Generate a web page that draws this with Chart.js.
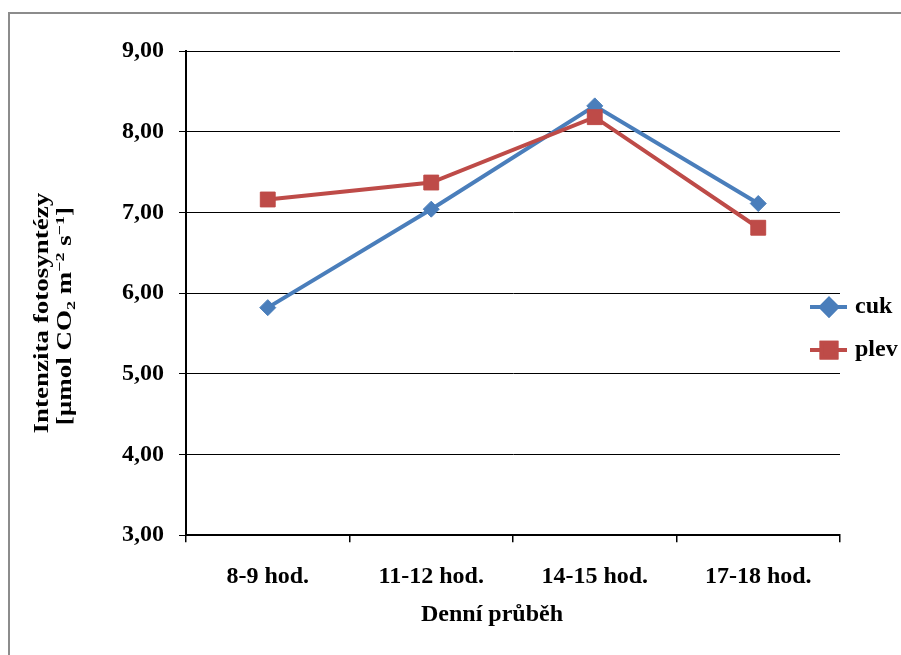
<!DOCTYPE html>
<html>
<head>
<meta charset="utf-8">
<script src="https://cdn.jsdelivr.net/npm/chart.js@4"></script>
<style>
  body { margin: 0; background: #fff; }
  canvas { display: block; }
</style>
</head>
<body>
<canvas id="chart" width="901" height="655"></canvas>
<script>
// data
const categories = ["8-9 hod.", "11-12 hod.", "14-15 hod.", "17-18 hod."];
const cukValues = [5.82, 7.04, 8.32, 7.11];
const plevValues = [7.16, 7.37, 8.18, 6.81];
const yTickLabels = ["3,00", "4,00", "5,00", "6,00", "7,00", "8,00", "9,00"];

const xTitle = "Denní průběh";
const yTitleLine1 = "Intenzita fotosyntézy";
// second line in pieces so that CO2 / m-2 / s-1 get their sub/superscripts
const yTitleLine2 = [
  { text: "[µmol CO", kind: "" },
  { text: "2", kind: "sub" },
  { text: " m", kind: "" },
  { text: "−2", kind: "sup" },
  { text: " s", kind: "" },
  { text: "−1", kind: "sup" },
  { text: "]", kind: "" },
];

const blue = "#4A7EBB";
const red = "#BE4B48";
const serif = "'Liberation Serif', 'Times New Roman', serif";

function drawYTitle(ctx, area) {
  const cy = area.top + (area.bottom - area.top) / 2 + 23;
  ctx.save();
  ctx.fillStyle = "#000";
  ctx.textBaseline = "alphabetic";
  ctx.textAlign = "left";

  // line 1
  ctx.save();
  ctx.translate(48, cy - 3);
  ctx.rotate(-Math.PI / 2);
  ctx.scale(1, 0.74);
  ctx.font = "bold 27px " + serif;
  const w1 = ctx.measureText(yTitleLine1).width;
  ctx.fillText(yTitleLine1, -w1 / 2, 0);
  ctx.restore();

  // line 2
  ctx.save();
  ctx.translate(71, cy);
  ctx.rotate(-Math.PI / 2);
  ctx.scale(1, 0.74);
  const fontFor = (kind) => (kind ? "bold 18px " : "bold 27px ") + serif;
  let total = 0;
  yTitleLine2.forEach((p) => {
    ctx.font = fontFor(p.kind);
    total += ctx.measureText(p.text).width;
  });
  let x = -total / 2;
  yTitleLine2.forEach((p) => {
    ctx.font = fontFor(p.kind);
    const dy = p.kind === "sub" ? 6 : p.kind === "sup" ? -10 : 0;
    ctx.fillText(p.text, x, dy);
    x += ctx.measureText(p.text).width;
  });
  ctx.restore();
  ctx.restore();
}

const decorPlugin = {
  id: "decor",
  beforeDraw(chart) {
    const ctx = chart.ctx;
    ctx.save();
    ctx.fillStyle = "#fff";
    ctx.fillRect(0, 0, chart.width, chart.height);
    // frame of the original picture, runs off to the right and bottom
    ctx.strokeStyle = "#8c8c8c";
    ctx.lineWidth = 2;
    ctx.beginPath();
    ctx.moveTo(9, chart.height);
    ctx.lineTo(9, 13);
    ctx.lineTo(chart.width, 13);
    ctx.stroke();
    ctx.restore();
  },
  afterDraw(chart) {
    const ctx = chart.ctx;
    const area = chart.chartArea;
    drawYTitle(ctx, area);

    // x title
    ctx.save();
    ctx.fillStyle = "#000";
    ctx.font = "bold 24px " + serif;
    ctx.textAlign = "center";
    ctx.textBaseline = "middle";
    ctx.fillText(xTitle, (area.left + area.right) / 2 - 21, 615);
    ctx.restore();

    // legend: line with marker, label at the right
    const lx = area.right - 30;
    const ly = area.top + (area.bottom - area.top) / 2 + 14;
    chart.data.datasets.forEach((ds, i) => {
      const y = ly + i * 43;
      ctx.save();
      ctx.strokeStyle = ds.borderColor;
      ctx.lineWidth = 4;
      ctx.beginPath();
      ctx.moveTo(lx, y);
      ctx.lineTo(lx + 37, y);
      ctx.stroke();
      Chart.helpers.drawPoint(
        ctx,
        { pointStyle: ds.pointStyle, radius: ds.pointRadius, borderWidth: 1 },
        lx + 19,
        y
      );
      ctx.fillStyle = ds.pointBackgroundColor;
      ctx.strokeStyle = ds.pointBorderColor;
      ctx.fill();
      ctx.stroke();
      ctx.fillStyle = "#000";
      ctx.font = "bold 24px " + serif;
      ctx.textAlign = "left";
      ctx.textBaseline = "middle";
      ctx.fillText(ds.label, lx + 45, y);
      ctx.restore();
    });
  },
};

new Chart(document.getElementById("chart"), {
  type: "line",
  data: {
    labels: categories,
    datasets: [
      {
        label: "cuk",
        data: cukValues,
        borderColor: blue,
        backgroundColor: blue,
        pointBackgroundColor: blue,
        pointBorderColor: blue,
        borderWidth: 4,
        pointStyle: "rectRot",
        pointRadius: 8,
        pointBorderWidth: 1,
        tension: 0,
        order: 1,
      },
      {
        label: "plev",
        data: plevValues,
        borderColor: red,
        backgroundColor: red,
        pointBackgroundColor: red,
        pointBorderColor: red,
        borderWidth: 4,
        pointStyle: "rect",
        pointRadius: 10.5,
        pointBorderWidth: 1,
        tension: 0,
        order: 0,
      },
    ],
  },
  options: {
    responsive: false,
    animation: false,
    layout: { padding: { left: 107, right: 61, top: 51, bottom: 44 } },
    plugins: {
      legend: { display: false },
      tooltip: { enabled: false },
    },
    scales: {
      x: {
        offset: true,
        grid: {
          offset: true,
          drawOnChartArea: false,
          drawTicks: true,
          tickLength: 7,
          color: "#000",
          lineWidth: 1.5,
        },
        border: { color: "#000", width: 2 },
        ticks: {
          color: "#000",
          padding: 20,
          maxRotation: 0,
          font: { family: serif, size: 24, weight: "bold" },
        },
      },
      y: {
        min: 3,
        max: 9,
        grid: { color: "#000", lineWidth: 1, tickLength: 7 },
        border: { color: "#000", width: 2 },
        ticks: {
          stepSize: 1,
          color: "#000",
          padding: 15,
          font: { family: serif, size: 24, weight: "bold" },
          callback: (val) => yTickLabels[Math.round(val) - 3],
        },
      },
    },
  },
  plugins: [decorPlugin],
});
</script>
</body>
</html>
